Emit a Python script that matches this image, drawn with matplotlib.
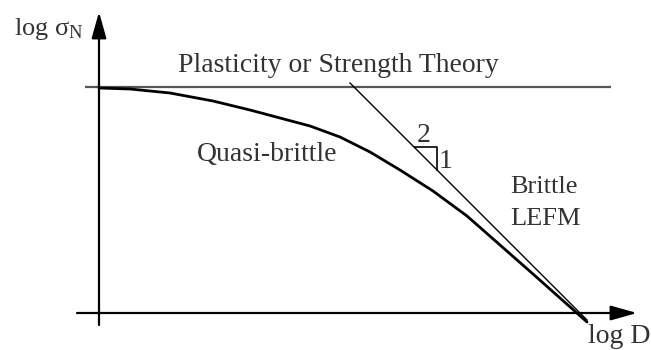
import matplotlib
matplotlib.use("Agg")
import matplotlib.pyplot as plt

# Size-effect schematic: log nominal strength vs log structure size
log_D = [0.00, 0.62, 1.42, 2.28, 3.02, 3.62, 4.22, 4.82, 5.42, 6.02,
         6.68, 7.36, 8.02, 8.68, 9.22, 9.76]
log_sigma = [2.25, 2.24, 2.20, 2.12, 2.03, 1.95, 1.87, 1.76, 1.61, 1.43,
             1.22, 0.97, 0.68, 0.39, 0.15, -0.09]

# Strength (plasticity) limit: horizontal asymptote
strength_x = [-0.28, 10.24]
strength_y = [2.26, 2.26]

# LEFM asymptote with slope -1/2
lefm_x = [5.02, 9.76]
lefm_y = [2.30, -0.07]

# Slope triangle (run 2, rise 1)
tri_x = [6.32, 6.76, 6.76]
tri_y = [1.66, 1.66, 1.43]

plt.rcParams['font.family'] = ['Liberation Serif', 'DejaVu Serif']
TXT = '#333333'

fig = plt.figure(figsize=(6.51, 3.5), dpi=100)
ax = fig.add_axes([0, 0, 1, 1])
ax.set_xlim(-1.98, 11.04)
ax.set_ylim(-0.37, 3.13)
ax.axis('off')

# Axes with arrow heads
arrow = dict(arrowstyle='-|>,head_length=1.6,head_width=0.45', color='black',
             lw=1.6, mutation_scale=10, shrinkA=0, shrinkB=0)
ax.annotate('', xy=(0, 3.01), xytext=(0, -0.12), arrowprops=arrow)
ax.annotate('', xy=(10.76, 0), xytext=(-0.44, 0), arrowprops=arrow)

ax.plot(strength_x, strength_y, color='#555555', lw=1.6, solid_capstyle='butt')
ax.plot(lefm_x, lefm_y, color='black', lw=1.0)
ax.plot(log_D, log_sigma, color='black', lw=2.0, solid_capstyle='round',
        solid_joinstyle='round')
ax.plot(tri_x, tri_y, color='black', lw=1.2)

fs = 20
ax.text(-1.70, 2.78, r'log $\mathregular{\sigma_N}$', fontsize=19, color=TXT,
        ha='left', va='baseline')
ax.text(1.58, 2.41, 'Plasticity or Strength Theory', fontsize=fs, color=TXT,
        ha='left', va='baseline')
ax.text(1.96, 1.52, 'Quasi-brittle', fontsize=fs, color=TXT,
        ha='left', va='baseline')
ax.text(8.22, 1.20, 'Brittle', fontsize=19, color=TXT, ha='left', va='baseline')
ax.text(8.22, 0.88, 'LEFM', fontsize=19, color=TXT, ha='left', va='baseline')
ax.text(9.78, -0.30, 'log D', fontsize=fs, color=TXT, ha='left', va='baseline')
ax.text(6.50, 1.71, '2', fontsize=fs, color=TXT, ha='center', va='baseline')
ax.text(6.80, 1.45, '1', fontsize=fs, color=TXT, ha='left', va='baseline')

fig.savefig('out.png', dpi=100, facecolor='white')
